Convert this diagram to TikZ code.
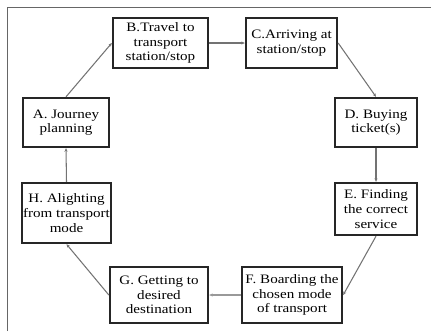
\documentclass[tikz,border=0pt]{standalone}
\usepackage{fontspec}
\setmainfont{Liberation Serif}[FakeStretch=1.17]
\usetikzlibrary{arrows.meta}

\tikzset{
  stagebox/.style={draw=black!85,line width=2pt,fill=white,inner sep=0pt,
    align=center,font=\fontsize{11}{12.5}\selectfont},
  flowline/.style={draw=black!55,line width=0.9pt,-{Stealth[length=3pt,width=2.6pt]}}
}

\begin{document}
\begin{tikzpicture}[x=0.03cm,y=-0.03cm]
\useasboundingbox (0,0) rectangle (431,331);
% frame
\draw[black!60,line width=0.8pt] (7,331) -- (7,7) -- (431,7);
% stages
\node[stagebox,minimum width=86*0.03cm,minimum height=49*0.03cm] (A) at (66,122.5) {A. Journey\\ planning};
\node[stagebox,minimum width=95*0.03cm,minimum height=50*0.03cm] (B) at (160.5,43) {B.Travel to\\transport\\station/stop};
\node[stagebox,minimum width=91*0.03cm,minimum height=50*0.03cm] (C) at (291.5,43) {C.Arriving at\\station/stop};
\node[stagebox,minimum width=82*0.03cm,minimum height=49*0.03cm] (D) at (376,122.5) {D. Buying\\ticket(s)};
\node[stagebox,minimum width=82*0.03cm,minimum height=52*0.03cm] (E) at (376,209) {E. Finding\\the correct\\service};
\node[stagebox,minimum width=100*0.03cm,minimum height=56*0.03cm] (F) at (292,295) {F. Boarding the\\chosen mode\\of transport};
\node[stagebox,minimum width=98*0.03cm,minimum height=56*0.03cm] (G) at (159,295) {G. Getting to\\desired\\destination};
\node[stagebox,minimum width=89*0.03cm,minimum height=60*0.03cm] (H) at (66.5,213) {H. Alighting\\from transport\\mode};
% cycle
\draw[flowline] (A.north) -- (B.west);
\draw[flowline] (B.east) -- (C.west);
\draw[flowline] (C.east) -- (D.north);
\draw[flowline] (D.south) -- (E.north);
\draw[flowline] (E.south) -- (F.east);
\draw[flowline,line width=2pt,draw=black!40] (F.west) -- (G.east);
\draw[flowline] (G.west) -- (H.south);
\draw[flowline] (H.north) -- (A.south);
\end{tikzpicture}
\end{document}
